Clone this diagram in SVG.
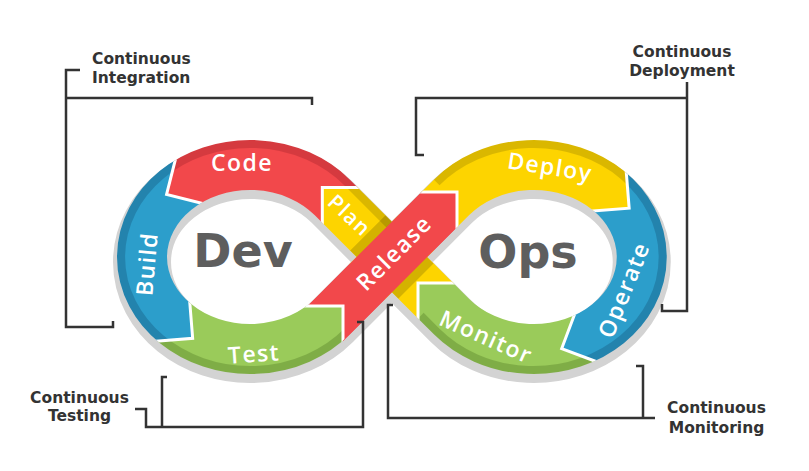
<svg xmlns="http://www.w3.org/2000/svg" width="809" height="471" viewBox="0 0 809 471">
<style>
  .r{fill:#F2484B}.rd{fill:#D53A3F}
  .b{fill:#2C9ECB}.bd{fill:#2383AD}
  .g{fill:#9ACB5A}.gd{fill:#7FAD46}
  .y{fill:#FDD400}.yd{fill:#DAB700}
  .lbl{font-family:"Open Sans","DejaVu Sans",sans-serif;font-weight:600;font-size:23px;letter-spacing:1.4px;fill:#fff;text-anchor:middle}
  .big{font-family:"DejaVu Sans",sans-serif;font-weight:bold;font-size:46px;fill:#5E5E5E;text-anchor:middle}
  .note{font-family:"DejaVu Sans",sans-serif;font-weight:bold;font-size:15.5px;fill:#333}
  .mid{text-anchor:middle}
  .brk{fill:none;stroke:#333;stroke-width:2.5}
  .cut{fill:none;stroke:#fff;stroke-width:3}
</style>
<defs>
  <!-- centre line of the figure-eight ribbon -->
  <path id="loop" d="M451.54,316.66 L332.22,197.34 A108,92 0 1 0 332.22,316.66 L451.54,197.34 A108,92 0 1 1 451.54,316.66 Z"/>
  <mask id="band" maskUnits="userSpaceOnUse" x="0" y="0" width="809" height="471">
    <use href="#loop" fill="none" stroke="#fff" stroke-width="50" stroke-linejoin="round"/>
  </mask>
  <!-- darker outer rim of the ribbon -->
  <mask id="rim" maskUnits="userSpaceOnUse" x="0" y="0" width="809" height="471">
    <path d="M420,249.76 L349.9,179.66 A133,117 0 1 0 349.9,334.34" fill="none" stroke="#fff" stroke-width="16"/>
    <path d="M433.86,179.66 A133,117 0 1 1 433.86,334.34 L418,318.48" fill="none" stroke="#fff" stroke-width="16"/>
  </mask>
  <clipPath id="under">
    <polygon points="350,179.76 445,274.76 445,345.48 350,250.48"/>
  </clipPath>
</defs>

<rect width="809" height="471" fill="#fff"/>

<!-- soft grey drop shadow under the ribbon -->
<use href="#loop" fill="none" stroke="#D3D3D3" stroke-width="58" stroke-linejoin="round" transform="translate(0,5)"/>

<g id="code">
  <g mask="url(#band)">
    <polygon class="r" points="250,257 322.32,236.94 322.32,187.44 371.82,187.44 340,110 250,100 160,110 178.72,146.45 166.58,194.43 214.56,206.57"/>
    <polygon class="rd" mask="url(#rim)" points="250,257 322.32,236.94 322.32,187.44 371.82,187.44 340,110 250,100 160,110 178.72,146.45 166.58,194.43 214.56,206.57"/>
  </g>
  <text class="lbl" x="242" y="171">Code</text>
</g>

<g id="build">
  <g mask="url(#band)">
    <polygon class="b" points="250,257 214.56,206.57 166.58,194.43 178.72,146.45 100,150 90,360 143.34,342.21 192.66,338.25 188.7,288.94"/>
    <polygon class="bd" mask="url(#rim)" points="250,257 214.56,206.57 166.58,194.43 178.72,146.45 100,150 90,360 143.34,342.21 192.66,338.25 188.7,288.94"/>
  </g>
  <text class="lbl" transform="translate(147,264) rotate(-85)" y="8">Build</text>
</g>

<g id="test">
  <g mask="url(#band)">
    <polygon class="g" points="250,257 188.7,288.94 192.66,338.25 143.34,342.21 150,420 350,420 343,355.38 343,305.88 293.5,305.88"/>
    <polygon class="gd" mask="url(#rim)" points="250,257 188.7,288.94 192.66,338.25 143.34,342.21 150,420 350,420 343,355.38 343,305.88 293.5,305.88"/>
  </g>
  <text class="lbl" transform="translate(254,354) rotate(-4)" y="8">Test</text>
</g>

<g id="deploy">
  <g mask="url(#band)">
    <polygon class="y" points="533.76,257 457,241.38 457,191.88 407.5,191.88 420,110 640,110 625.2,158.84 629.16,208.15 579.84,212.11"/>
    <polygon class="yd" mask="url(#rim)" points="533.76,257 457,241.38 457,191.88 407.5,191.88 420,110 640,110 625.2,158.84 629.16,208.15 579.84,212.11"/>
  </g>
  <text class="lbl" transform="translate(550,167) rotate(9)" y="8">Deploy</text>
</g>

<g id="operate">
  <g mask="url(#band)">
    <polygon class="b" points="533.76,257 579.84,212.11 629.16,208.15 625.2,158.84 710,150 710,400 608.03,365.98 561.7,348.55 579.13,302.22"/>
    <polygon class="bd" mask="url(#rim)" points="533.76,257 579.84,212.11 629.16,208.15 625.2,158.84 710,150 710,400 608.03,365.98 561.7,348.55 579.13,302.22"/>
  </g>
  <text class="lbl" transform="translate(624,290) rotate(-68)" y="8">Operate</text>
</g>

<g id="monitor">
  <g mask="url(#band)">
    <polygon class="g" points="533.76,257 579.13,302.22 561.7,348.55 608.03,365.98 600,430 400,430 418,332.62 418,283.12 467.5,283.12"/>
    <polygon class="gd" mask="url(#rim)" points="533.76,257 579.13,302.22 561.7,348.55 608.03,365.98 600,430 400,430 418,332.62 418,283.12 467.5,283.12"/>
  </g>
  <text class="lbl" transform="translate(486,337) rotate(24)" y="8">Monitor</text>
</g>

<g id="plan">
  <g mask="url(#band)">
    <polygon class="r" points="307.64,305.88 343,305.88 343,341.24 457,227.24 457,191.88 421.64,191.88"/>
    <polygon class="y" points="371.82,187.44 322.32,187.44 322.32,236.94 418,332.62 418,283.12 467.5,283.12"/>
    <polygon class="yd" mask="url(#rim)" points="371.82,187.44 322.32,187.44 322.32,236.94 418,332.62 418,283.12 467.5,283.12"/>
  </g>
  <text class="lbl" style="font-size:21px" transform="translate(350,215) rotate(43)" y="8">Plan</text>
</g>

<g id="release">
  <!-- shade cast on the yellow ribbon where the release arrow crosses it -->
  <g mask="url(#band)" clip-path="url(#under)">
    <polygon points="307.64,305.88 343,305.88 343,341.24 457,227.24 457,191.88 421.64,191.88" fill="none" stroke="#000" stroke-opacity="0.16" stroke-width="18"/>
  </g>
  <polygon class="r" points="307.64,305.88 343,305.88 343,341.24 457,227.24 457,191.88 421.64,191.88"/>
  <text class="lbl" transform="translate(394,253) rotate(-45)" y="8">Release</text>
</g>

<!-- white seams between the arrow segments -->
<g id="seams" mask="url(#band)">
  <path class="cut" d="M371.82,187.44 L322.32,187.44 L322.32,236.94"/>
  <path class="cut" d="M178.72,146.45 L166.58,194.43 L214.56,206.57"/>
  <path class="cut" d="M143.34,342.21 L192.66,338.25 L188.7,288.94"/>
  <path class="cut" d="M293.5,305.88 L343,305.88 L343,355.38"/>
  <path class="cut" d="M407.5,191.88 L457,191.88 L457,241.38"/>
  <path class="cut" d="M625.2,158.84 L629.16,208.15 L579.84,212.11"/>
  <path class="cut" d="M608.03,365.98 L561.7,348.55 L579.13,302.22"/>
  <path class="cut" d="M467.5,283.12 L418,283.12 L418,332.62"/>
</g>

<g id="dev"><text class="big" x="243" y="267">Dev</text></g>
<g id="ops"><text class="big" x="528" y="268">Ops</text></g>

<!-- bracket leaders for the four phases -->
<g id="connectors">
  <path class="brk" d="M80,70 H66 V327 H113 V321"/>
  <path class="brk" d="M66,98 H312 V105"/>
  <path class="brk" d="M687,82 V311 H662 V304"/>
  <path class="brk" d="M687,98 H416 V155 H424"/>
  <path class="brk" d="M135,409 H146 V427 H363 V322 H357"/>
  <path class="brk" d="M162,427 V377 H167"/>
  <path class="brk" d="M393,305 H388 V418 H655"/>
  <path class="brk" d="M643,418 V366 H636"/>
</g>

<g id="ci-label">
  <text class="note" x="92" y="64">Continuous</text>
  <text class="note" x="92" y="83">Integration</text>
</g>
<g id="cd-label">
  <text class="note mid" x="682" y="57">Continuous</text>
  <text class="note mid" x="682" y="76">Deployment</text>
</g>
<g id="ct-label">
  <text class="note mid" x="79.5" y="403">Continuous</text>
  <text class="note mid" x="79.5" y="421">Testing</text>
</g>
<g id="cm-label">
  <text class="note mid" x="716.5" y="413">Continuous</text>
  <text class="note mid" x="716.5" y="433">Monitoring</text>
</g>
</svg>
